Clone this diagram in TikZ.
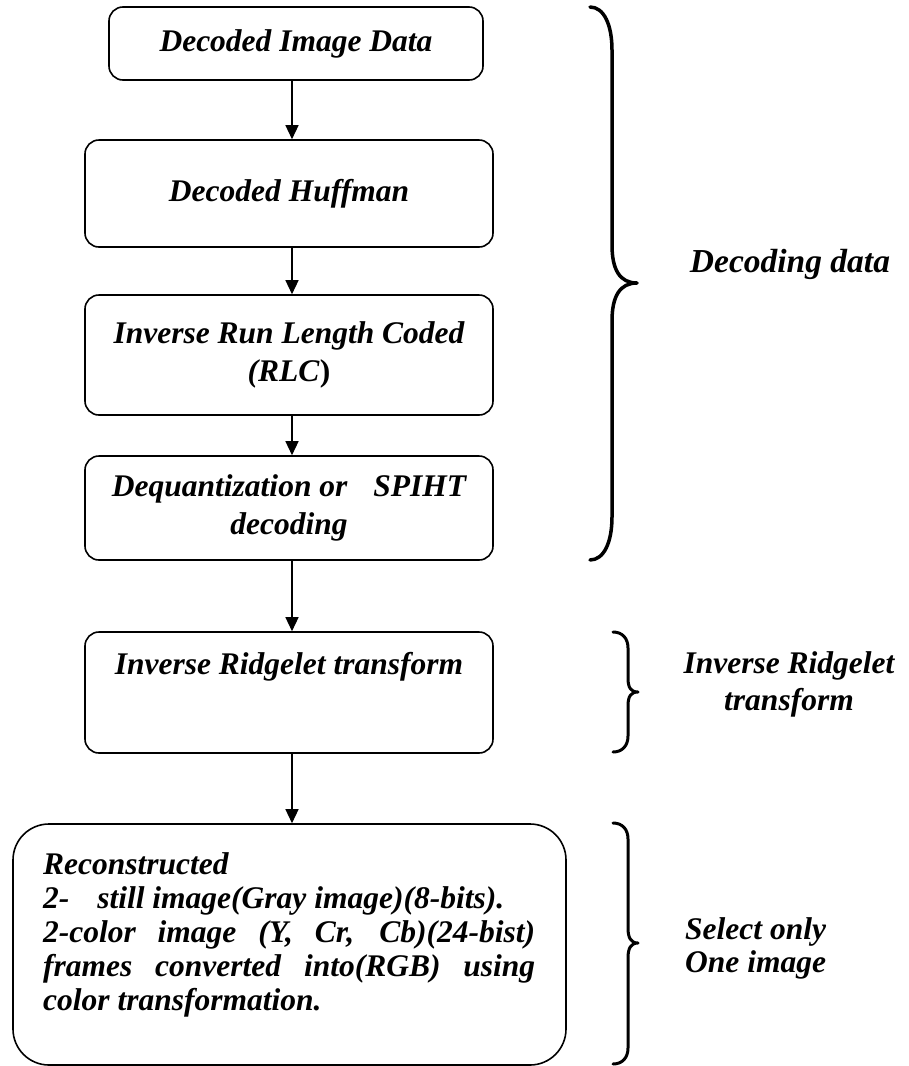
\documentclass[tikz,border=0pt]{standalone}
\usepackage{fontspec}
\setmainfont{Liberation Serif}
\usetikzlibrary{arrows.meta}
\begin{document}
\begin{tikzpicture}[x=1pt,y=-1pt,
  txt/.style={font=\fontsize{31.5}{38}\selectfont\bfseries\itshape, align=center, inner sep=0pt},
  box/.style={draw, line width=1.6pt, rounded corners=14pt, inner sep=0pt, txt},
  arr/.style={line width=1.4pt, -{Triangle[width=13pt,length=14pt]}},
  brace/.style={line width=3.5pt, line cap=round, line join=round}
]
\useasboundingbox (0,0) rectangle (908,1066);
\fill[white] (0,0) rectangle (908,1066);

% boxes
\node[box, minimum width=374pt, minimum height=73pt] (b1) at (296,43.5) {Decoded Image Data};
\node[box, minimum width=408pt, minimum height=107pt] (b2) at (289,193.5) {Decoded Huffman};
\node[box, minimum width=408pt, minimum height=120pt] (b3) at (289,355) {Inverse Run Length Coded\\(RLC\textup{)}};
\node[box, minimum width=408pt, minimum height=104pt] (b4) at (289,508) {Dequantization or\hspace{18pt} SPIHT\\decoding};
\node[box, minimum width=408pt, minimum height=121pt] (b5) at (289,692.5) {};
\node[txt] (b5t) at (289,667) {Inverse Ridgelet transform};
\node[box, rounded corners=36pt, minimum width=553pt, minimum height=241pt] (b6) at (289.5,944.5) {};
\node[txt, align=left, anchor=north west, font=\fontsize{31.5}{34}\selectfont\bfseries\itshape] (b6t) at (43,852) {%
Reconstructed\\
2-\hspace{20pt} still image(Gray image)(8-bits).\\
\makebox[492pt][s]{2-color image (Y, Cr, Cb)(24-bist)}\\
\makebox[492pt][s]{frames converted into(RGB) using}\\
color transformation.};

% connectors
\coordinate (ax) at (292,0);
\draw[arr] (b1.south -| ax) -- (b2.north -| ax);
\draw[arr] (b2.south -| ax) -- (b3.north -| ax);
\draw[arr] (b3.south -| ax) -- (b4.north -| ax);
\draw[arr] (b4.south -| ax) -- (b5.north -| ax);
\draw[arr] (b5.south -| ax) -- (b6.north -| ax);

% braces
\draw[brace] (590,7) .. controls (604,7) and (612,25) .. (612,50) -- (612,245)
  .. controls (612,270) and (620,283) .. (637,283)
  .. controls (620,283) and (612,296) .. (612,321) -- (612,517)
  .. controls (612,542) and (604,560) .. (590,560);
\draw[brace, line width=3pt] (613,632) .. controls (622,632) and (628,638) .. (628,648) -- (628,678)
  .. controls (628,688) and (631,692) .. (638,692)
  .. controls (631,692) and (628,696) .. (628,706) -- (628,736)
  .. controls (628,746) and (622,752) .. (613,752);
\draw[brace, line width=3pt] (613,823) .. controls (622,823) and (628,829) .. (628,839) -- (628,928)
  .. controls (628,938) and (631,943) .. (638,943)
  .. controls (631,943) and (628,948) .. (628,958) -- (628,1048)
  .. controls (628,1058) and (622,1064) .. (613,1064);

% brace labels
\node[txt, font=\fontsize{33.5}{38}\selectfont\bfseries\itshape] (l1) at (790,264) {Decoding data};
\node[txt, font=\fontsize{31.5}{37}\selectfont\bfseries\itshape] (l2) at (789,684) {Inverse Ridgelet\\transform};
\node[txt, align=left, anchor=west, font=\fontsize{31.5}{33}\selectfont\bfseries\itshape] (l3) at (685,948) {Select only\\One image};
\end{tikzpicture}
\end{document}
